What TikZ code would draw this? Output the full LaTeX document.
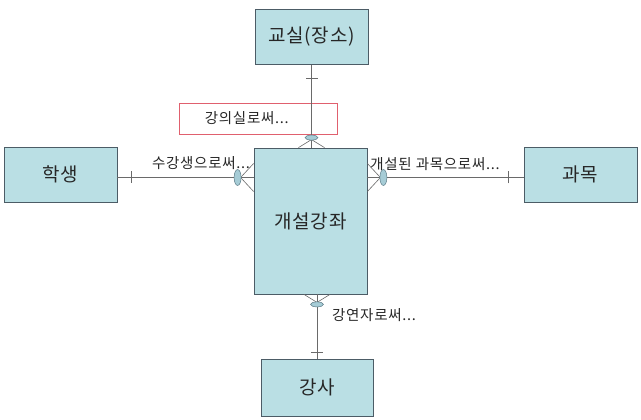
\documentclass[tikz,border=0pt]{standalone}
\usepackage{fontspec}
\setmainfont{Noto Sans CJK KR}
\usepackage{xcolor}
\definecolor{boxfill}{HTML}{BADFE4}
\definecolor{boxline}{HTML}{4C5C66}
\definecolor{noteline}{HTML}{E0606E}
\definecolor{linkgray}{HTML}{6A6A6A}
\definecolor{ovalfill}{HTML}{A6CCD6}
\definecolor{ovalline}{HTML}{5C7A86}
\definecolor{textgray}{HTML}{262626}

\begin{document}
\begin{tikzpicture}[x=1pt, y=-1pt,
  entity/.style={draw=boxline, fill=boxfill, line width=0.8pt, minimum width=113pt, minimum height=55pt, inner sep=0, text=textgray, font=\fontsize{19}{19}\selectfont\addfontfeature{LetterSpace=4}},
  notebox/.style={draw=noteline, line width=0.7pt, minimum width=158pt, minimum height=31pt, inner sep=0},
  role/.style={inner sep=0, text=textgray, font=\fontsize{14.5}{14.5}\selectfont\addfontfeature{LetterSpace=5}},
  link/.style={draw=linkgray, line width=0.6pt},
  oval/.style={draw=ovalline, fill=ovalfill, line width=0.5pt}
]
\useasboundingbox (0,0) rectangle (641,420);

% entities
\node[entity] (room) at (311.5, 37) {교실(장소)};
\node[entity] (student) at (60.5, 174.5) {학생};
\node[entity] (subject) at (580.5, 174.5) {과목};
\node[entity, minimum height=146pt] (course) at (310.5, 221) {개설강좌};
\node[entity, minimum width=112pt, minimum height=57pt] (lecturer) at (317, 387.5) {강사};

% link ends
\coordinate (sl) at ([yshift=-3pt]student.east);
\coordinate (jl) at ([yshift=-3pt]subject.west);
\coordinate (ft) at (room.south |- course.north);
\coordinate (fb) at (lecturer.north |- course.south);
\coordinate (fl) at (sl -| course.west);
\coordinate (fr) at (jl -| course.east);

% role note box
\node[notebox] (note) at (258, 118.5) {};
\node[role, anchor=west] (lroom) at ([xshift=26pt]note.west) {강의실로써...};

% links
\draw[link] (room.south) -- (ft);
\draw[link] (sl) -- (fl);
\draw[link] (jl) -- (fr);
\draw[link] (lecturer.north) -- (fb);

% one-side ticks
\foreach \t/\a/\d in {room.south/270/13, sl/0/14, jl/180/15, lecturer.north/90/6}{
  \begin{scope}[shift={(\t)}, rotate=\a]
    \draw[link] (\d,-6) -- (\d,6);
  \end{scope}
}

% many-side crow's feet with optional ovals
\foreach \f/\a/\v/\e/\ra/\rb/\s in {ft/90/8/10/2.5/6.5/13, fb/270/8/10/2.5/6.5/13, fl/180/13/16/3.5/8/14, fr/0/13/16/3.5/8/14}{
  \begin{scope}[shift={(\f)}, rotate=\a]
    \draw[link] (0,-\s) -- (\v,0) -- (0,\s);
    \draw[oval] (\e,0) ellipse [x radius=\ra pt, y radius=\rb pt];
  \end{scope}
}

% role labels
\node[role] (lstudent) at (201, 163) {수강생으로써...};
\node[role] (lsubject) at (435, 164) {개설된 과목으로써...};
\node[role] (llecturer) at (374, 315) {강연자로써...};
\end{tikzpicture}
\end{document}
